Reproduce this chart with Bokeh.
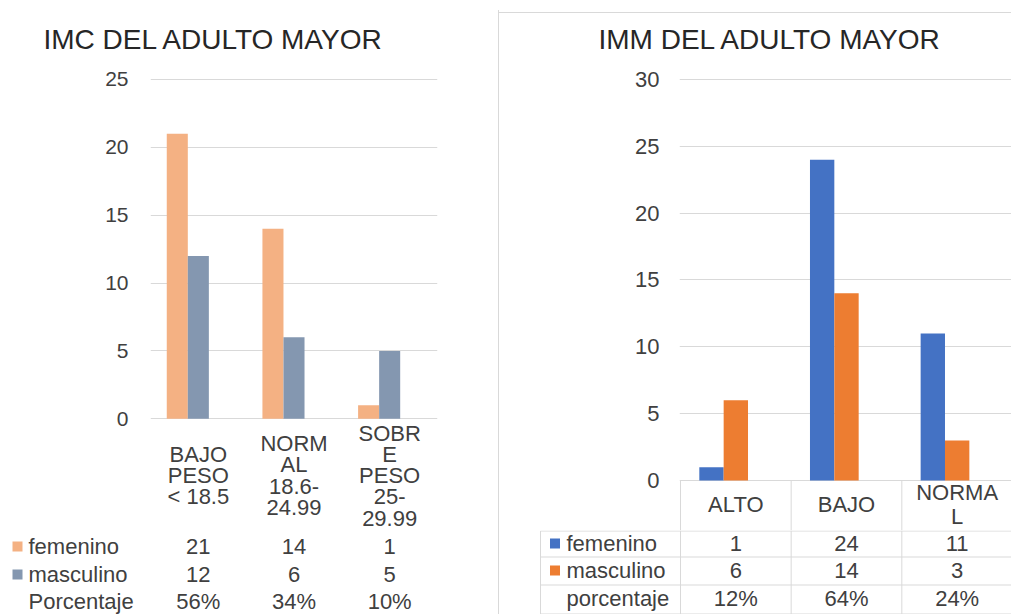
import numpy as np
from bokeh.plotting import figure
from bokeh.layouts import row, column
from bokeh.models import Range1d, FixedTicker, ColumnDataSource, Div, Spacer
from bokeh.core.properties import value
from bokeh.embed import file_html
from bokeh.resources import INLINE

# ---------------- data ----------------
imc_title = "IMC DEL ADULTO MAYOR"
imc_categories = ["BAJO\nPESO\n< 18.5", "NORM\nAL\n18.6-\n24.99", "SOBR\nE\nPESO\n25-\n29.99"]
imc_femenino = [21, 14, 1]
imc_masculino = [12, 6, 5]
imc_porcentaje = ["56%", "34%", "10%"]
imc_rows = ["femenino", "masculino", "Porcentaje"]
imc_ticks = [0, 5, 10, 15, 20, 25]

imm_title = "IMM DEL ADULTO MAYOR"
imm_categories = ["ALTO", "BAJO", "NORMA\nL"]
imm_femenino = [1, 24, 11]
imm_masculino = [6, 14, 3]
imm_porcentaje = ["12%", "64%", "24%"]
imm_rows = ["femenino", "masculino", "porcentaje"]
imm_ticks = [0, 5, 10, 15, 20, 25, 30]

# ---------------- style ----------------
FONT = "Liberation Sans"
TXT = "#404040"
TITLE_C = "#262626"
GRID = "#D9D9D9"
IMC_FEM, IMC_MAS = "#F4B183", "#8497B0"
IMM_FEM, IMM_MAS = "#4472C4", "#ED7D31"
BAR_W = 0.22
H_TOTAL = 614


def style_chart(p, ticks, tick_size, standoff, title_offset, title_standoff):
    p.outline_line_color = None
    p.yaxis.ticker = FixedTicker(ticks=ticks)
    p.yaxis.axis_line_color = None
    p.yaxis.major_tick_line_color = None
    p.yaxis.minor_tick_line_color = None
    p.yaxis.major_tick_out = 0
    p.yaxis.major_tick_in = 0
    p.yaxis.major_label_standoff = standoff
    p.yaxis.major_label_text_font = FONT
    p.yaxis.major_label_text_font_size = tick_size
    p.yaxis.major_label_text_color = TXT
    p.ygrid.grid_line_color = GRID
    p.ygrid.grid_line_width = 1
    p.title.text_font = FONT
    p.title.text_font_size = "28px"
    p.title.text_font_style = "normal"
    p.title.text_color = TITLE_C
    p.title.align = "left"
    p.title.vertical_align = "bottom"
    p.title.offset = title_offset
    p.title.standoff = title_standoff


def text(p, x, y, t, align="center", size="22px", line_height=1.2):
    src = ColumnDataSource(dict(x=x, y=y, t=t))
    p.text(x="x", y="y", text="t", source=src, text_align=align,
           text_baseline="middle", text_font=value(FONT), text_font_size=size,
           text_color=TXT, text_line_height=line_height)


# ================= LEFT PANEL (IMC) =================
x_imc = np.arange(len(imc_categories)) + 0.5
px_L = 287 / 3.0          # px per category
py_L = 13.6               # px per unit
zero_L = 418              # screen y of value 0
TOP_L, BOT_L = 74, 530    # frame top / bottom (screen y)

pL = figure(width=498, height=BOT_L, x_range=Range1d(0, 3),
            y_range=Range1d((zero_L - BOT_L) / py_L, (zero_L - TOP_L) / py_L),
            x_axis_type=None, title=imc_title, output_backend="svg", toolbar_location=None,
            min_border_left=150, min_border_right=61, min_border_top=TOP_L, min_border_bottom=0)
style_chart(pL, imc_ticks, "21px", 22, -107, 42)
pL.vbar(x=x_imc - BAR_W, top=imc_femenino, bottom=0, width=BAR_W, fill_color=IMC_FEM, line_color=None)
pL.vbar(x=x_imc, top=imc_masculino, bottom=0, width=BAR_W, fill_color=IMC_MAS, line_color=None)
# category labels under the bars
text(pL, list(x_imc), [(zero_L - 475) / py_L] * 3, imc_categories, line_height=0.85)

# table below (frame spans full figure; y in screen px)
tL = figure(width=498, height=H_TOTAL - BOT_L, x_range=Range1d((0 - 150) / px_L, (498 - 150) / px_L),
            y_range=Range1d(H_TOTAL, BOT_L), x_axis_type=None, y_axis_type=None,
            output_backend="svg", toolbar_location=None, min_border=0)
tL.outline_line_color = None
rows_y_L = [546, 574, 601]
text(tL, list(x_imc), [rows_y_L[0]] * 3, [str(v) for v in imc_femenino])
text(tL, list(x_imc), [rows_y_L[1]] * 3, [str(v) for v in imc_masculino])
text(tL, list(x_imc), [rows_y_L[2]] * 3, imc_porcentaje)
lab_x_L = (28 - 150) / px_L
text(tL, [lab_x_L] * 3, rows_y_L, imc_rows, align="left")
key_x_L = (17 - 150) / px_L
tL.scatter(x=[key_x_L] * 2, y=rows_y_L[:2], marker="square", size=10,
           fill_color=[IMC_FEM, IMC_MAS], line_color=None)

left_col = column(pL, row(tL))

# ================= RIGHT PANEL (IMM) =================
x_imm = np.arange(len(imm_categories)) + 0.5
px_R = 332 / 3.0
py_R = 13.367
zero_R = 480
TOP_R, BOT_R = 75, 530
RW = 512

pR = figure(width=RW, height=BOT_R, x_range=Range1d(-1 / px_R, (1011 - 680) / px_R),
            y_range=Range1d((zero_R - BOT_R) / py_R, (zero_R - TOP_R) / py_R),
            x_axis_type=None, title=imm_title, output_backend="svg", toolbar_location=None,
            min_border_left=180, min_border_right=0, min_border_top=TOP_R, min_border_bottom=0)
style_chart(pR, imm_ticks, "22px", 20, -81, 41)
# chart border line at the top of the panel (drawn behind a transparent border area)
pR.border_fill_color = None
pR.styles = {
    "background-image": "linear-gradient(#D9D9D9, #D9D9D9)",
    "background-position": "0px 12px",
    "background-size": "100% 1px",
    "background-repeat": "no-repeat",
}
pR.vbar(x=x_imm - BAR_W, top=imm_femenino, bottom=0, width=BAR_W, fill_color=IMM_FEM, line_color=None)
pR.vbar(x=x_imm, top=imm_masculino, bottom=0, width=BAR_W, fill_color=IMM_MAS, line_color=None)
bounds = np.arange(len(imm_categories) + 1)
y_bot_R = (zero_R - BOT_R) / py_R
pR.segment(x0=list(bounds), y0=[0] * len(bounds), x1=list(bounds), y1=[y_bot_R] * len(bounds),
           line_color=GRID, line_width=1)
text(pR, list(x_imm), [(zero_R - 504) / py_R] * 3, imm_categories, line_height=0.95)

tR = figure(width=RW, height=H_TOTAL - BOT_R, x_range=Range1d((499 - 680) / px_R, (1011 - 680) / px_R),
            y_range=Range1d(H_TOTAL, BOT_R), x_axis_type=None, y_axis_type=None,
            output_backend="svg", toolbar_location=None, min_border=0)
tR.outline_line_color = None
# table grid lines
tab_left = (540 - 680) / px_R
sep_y = [BOT_R + 0.5, 556.5, 584.5, H_TOTAL - 0.5]
tR.segment(x0=list(bounds), y0=[BOT_R] * len(bounds), x1=list(bounds), y1=[H_TOTAL] * len(bounds),
           line_color=GRID, line_width=1)
tR.segment(x0=[tab_left], y0=[sep_y[0]], x1=[tab_left], y1=[H_TOTAL], line_color=GRID, line_width=1)
tR.segment(x0=[tab_left] * len(sep_y), y0=sep_y, x1=[3] * len(sep_y), y1=sep_y,
           line_color=GRID, line_width=1)

rows_y_R = [543, 570, 598]
text(tR, list(x_imm), [rows_y_R[0]] * 3, [str(v) for v in imm_femenino])
text(tR, list(x_imm), [rows_y_R[1]] * 3, [str(v) for v in imm_masculino])
text(tR, list(x_imm), [rows_y_R[2]] * 3, imm_porcentaje)
lab_x_R = (566 - 680) / px_R
text(tR, [lab_x_R] * 3, rows_y_R, imm_rows, align="left")
key_x_R = (554.5 - 680) / px_R
tR.scatter(x=[key_x_R] * 2, y=rows_y_R[:2], marker="square", size=10,
           fill_color=[IMM_FEM, IMM_MAS], line_color=None)

vline = Div(text="", width=1, height=H_TOTAL - 10, margin=0, styles={"background-color": GRID})

right_col = column(pR, row(tR))
divider = column(Spacer(width=1, height=10), vline)

layout = row(left_col, divider, right_col)

open("out.html", "w").write(file_html(layout, INLINE))
